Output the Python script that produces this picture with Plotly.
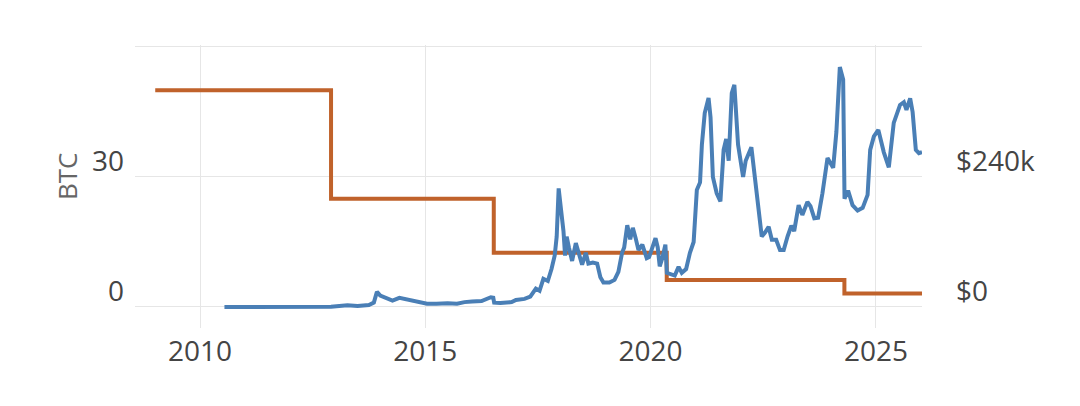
import plotly.graph_objects as go

# Block subsidy (BTC per block), step changes at halvings
subsidy_dates = ["2009-01-03", "2012-11-28", "2016-07-09", "2020-05-11", "2024-04-20", "2026-01-09"]
subsidy_btc = [50, 25, 12.5, 6.25, 3.125, 3.125]

# Block reward value in USD (thousands)
reward_dates = [
    "2010-07-18", "2011-02-01", "2011-06-10", "2011-10-01", "2012-06-01", "2012-11-28",
    "2013-04-10", "2013-07-01", "2013-10-01", "2013-11-10", "2013-11-25", "2013-12-05",
    "2014-01-01", "2014-02-20", "2014-04-10", "2014-06-05", "2014-07-15", "2014-10-01",
    "2015-01-15", "2015-04-01", "2015-07-01", "2015-09-15", "2015-11-15", "2016-01-15",
    "2016-04-01", "2016-06-15", "2016-07-05", "2016-07-12", "2016-09-01", "2016-12-01",
    "2017-01-05", "2017-03-15", "2017-05-01", "2017-06-15", "2017-07-15", "2017-08-15",
    "2017-09-20", "2017-10-20", "2017-11-15", "2017-12-01", "2017-12-17", "2018-01-05",
    "2018-01-25", "2018-02-07", "2018-02-20", "2018-03-10", "2018-04-05", "2018-05-05",
    "2018-06-05", "2018-06-25", "2018-07-25", "2018-08-15", "2018-09-20", "2018-10-25",
    "2018-11-20", "2018-12-15", "2019-02-01", "2019-03-15", "2019-04-15", "2019-05-15",
    "2019-06-01", "2019-06-26", "2019-07-20", "2019-08-10", "2019-09-01", "2019-09-25",
    "2019-10-26", "2019-12-01", "2019-12-20", "2020-02-10", "2020-02-28", "2020-03-15",
    "2020-04-05", "2020-04-30", "2020-05-12", "2020-06-15", "2020-07-15", "2020-08-15",
    "2020-09-10", "2020-10-15", "2020-11-15", "2020-12-15", "2021-01-10", "2021-02-05",
    "2021-02-20", "2021-03-15", "2021-04-15", "2021-05-01", "2021-05-20", "2021-06-20",
    "2021-07-20", "2021-08-15", "2021-09-05", "2021-09-25", "2021-10-20", "2021-11-10",
    "2021-12-10", "2022-01-20", "2022-02-10", "2022-03-28", "2022-04-20", "2022-05-15",
    "2022-06-20", "2022-07-15", "2022-08-15", "2022-09-10", "2022-10-15", "2022-11-15",
    "2022-12-15", "2023-01-15", "2023-02-15", "2023-03-10", "2023-04-15", "2023-05-15",
    "2023-06-25", "2023-07-20", "2023-08-20", "2023-09-20", "2023-10-25", "2023-12-05",
    "2024-01-20", "2024-02-15", "2024-03-14", "2024-04-10", "2024-04-21", "2024-05-20",
    "2024-06-25", "2024-08-05", "2024-09-15", "2024-10-25", "2024-11-15", "2024-12-15",
    "2025-01-20", "2025-03-05", "2025-04-15", "2025-05-25", "2025-07-15", "2025-08-15",
    "2025-09-05", "2025-10-05", "2025-10-25", "2025-11-20", "2025-12-15", "2026-01-09",
]
reward_usd_k = [
    0.0, 0.1, 1.0, 0.3, 0.3, 0.3,
    3.0, 2.0, 3.5, 8, 20, 28,
    21, 17, 12, 17, 15, 10,
    6, 6, 7, 6, 9, 10,
    11, 18, 17, 8, 7.5, 9,
    13, 15, 19, 34, 30, 52,
    48, 70, 95, 130, 219, 180,
    140, 95, 130, 110, 85, 118,
    95, 78, 100, 80, 82, 80,
    55, 45, 45, 50, 65, 100,
    110, 151, 125, 146, 128, 105,
    115, 90, 92, 127, 110, 75,
    90, 115, 63, 60, 58, 74,
    63, 70, 100, 120, 216, 230,
    300, 358, 386, 350, 240, 210,
    195, 290, 310, 270, 395, 410,
    300, 240, 270, 295, 250, 190,
    130, 137, 148, 124, 124, 105,
    105, 130, 150, 140, 188, 170,
    194, 186, 164, 165, 210, 275,
    257, 323, 443, 420, 200, 215,
    188, 178, 183, 207, 290, 315,
    327, 286, 258, 340, 373, 378,
    364, 385, 360, 290, 284, 286,
]
reward_usd = [v * 1000 for v in reward_usd_k]

BLUE = "#4a7fb6"
ORANGE = "#c0622b"
GRID = "#e6e6e6"
FONT = "Open Sans"
TICK_SIZE = 28

fig = go.Figure()
fig.add_trace(go.Scatter(
    x=subsidy_dates, y=subsidy_btc, mode="lines", line=dict(color=ORANGE, width=4, shape="hv"),
    yaxis="y", showlegend=False, hoverinfo="skip"))
fig.add_trace(go.Scatter(
    x=reward_dates, y=reward_usd, mode="lines", line=dict(color=BLUE, width=4),
    yaxis="y2", showlegend=False, hoverinfo="skip"))

fig.update_layout(
    width=1080, height=406,
    margin=dict(l=127, r=166, t=37, b=86),
    paper_bgcolor="white", plot_bgcolor="white",
    font=dict(family=FONT, size=TICK_SIZE, color="#444"),
    xaxis=dict(
        range=["2008-07-23", "2026-01-09"],
        tickvals=["2010-01-01", "2015-01-01", "2020-01-01", "2025-01-01"],
        ticktext=["2010", "2015", "2020", "2025"],
        showgrid=True, gridcolor=GRID, zeroline=False, showline=False,
        ticklabelstandoff=4,
        tickfont=dict(size=TICK_SIZE, color="#444"),
    ),
    yaxis=dict(
        range=[-4.85, 60.46],
        tickvals=[0, 30, 60], ticktext=["0", "30", ""],
        ticklabelposition="outside top",
        ticklabelstandoff=10, ticklabelshift=4,
        showgrid=True, gridcolor=GRID, zeroline=False, showline=False,
        tickfont=dict(size=TICK_SIZE, color="#444"),
    ),
    yaxis2=dict(
        range=[-38800, 483700],
        tickvals=[0, 240000, 480000], ticktext=["$0", "$240k", ""],
        ticklabelposition="outside top",
        overlaying="y", side="right",
        showgrid=False, zeroline=False, showline=False,
        ticklabelstandoff=33, ticklabelshift=4,
        tickfont=dict(size=TICK_SIZE, color="#444"),
    ),
    annotations=[dict(
        text="BTC", xref="paper", yref="paper", x=-0.0864, y=0.537,
        textangle=-90, showarrow=False, xanchor="center", yanchor="middle",
        font=dict(family=FONT, size=26, color="#666"),
    )],
)

fig.write_html("out.html")
